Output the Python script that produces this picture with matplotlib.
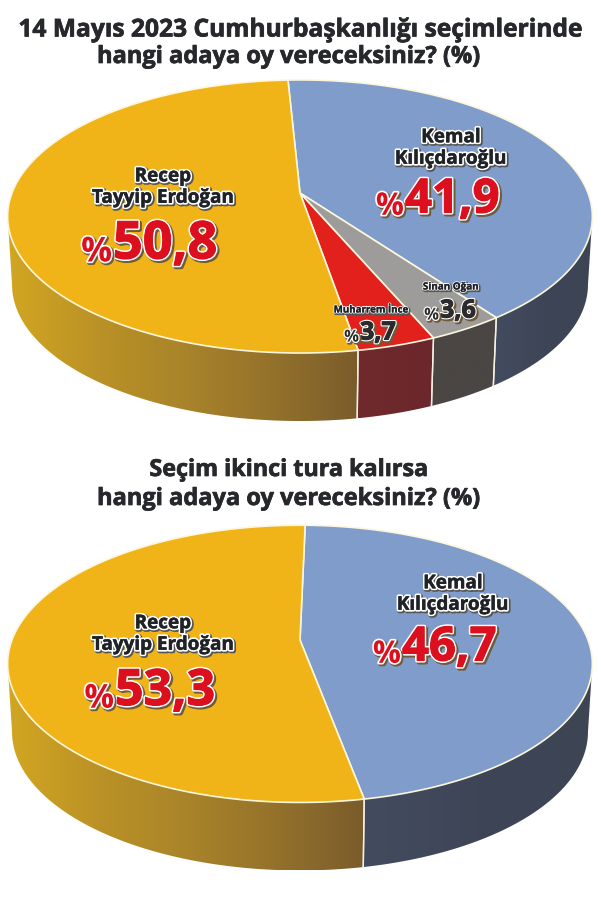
import numpy as np
import matplotlib
matplotlib.use("Agg")
import matplotlib.pyplot as plt
import matplotlib.patheffects as pe
from matplotlib.colors import LinearSegmentedColormap
from matplotlib.patches import Polygon

plt.rcParams['font.family'] = ['Open Sans', 'DejaVu Sans']

# printed numbers
first_names = ["Kemal\nKılıçdaroğlu", "Sinan Oğan", "Muharrem İnce", "Recep\nTayyip Erdoğan"]
first_labels = ["41,9", "3,6", "3,7", "50,8"]
second_names = ["Kemal\nKılıçdaroğlu", "Recep\nTayyip Erdoğan"]
second_labels = ["46,7", "53,3"]

# slice shares as actually drawn in the picture (first pie is not quite to scale with its labels)
first_shares = [40.8, 3.6, 3.7, 51.9]
second_shares = [46.7, 53.3]

face_colors = {"blue": "#7f9ccb", "grey": "#9d9c9a", "red": "#e2201c", "yellow": "#f0b418"}
wall_colors = {
    "blue": ["#434c5f", "#3e4557", "#3d4454"],
    "grey": ["#4a4644", "#4a4644"],
    "red": ["#702a2e", "#6b272c"],
    "yellow": ["#d2a622", "#bb9226", "#a9842a", "#94722b", "#7a5c2c"],
}

# view of the tilted disc, in pixels
half_w = 288.0
persp = 0.172
depth = 68.0
shrink = 0.985


def rim(theta, cx, cy, half_h, low=False):
    # theta in degrees, clockwise from the far side of the disc
    t = np.radians(theta)
    d = 1 + persp * np.cos(t)
    x = half_w * np.sin(t) / d
    y = -half_h * np.cos(t) / d
    if low:
        return cx + shrink * x, cy + y + depth
    return cx + x, cy + y


def draw_pie(ax, shares, keys, start, cx, cy, half_h):
    edges = start + np.cumsum([0] + list(shares)) * 3.6
    tangent = np.degrees(np.arccos(-persp))

    # side wall first, top face covers what is hidden
    for k, key in enumerate(keys):
        a = max(edges[k], tangent)
        b = min(edges[k + 1], 360 - tangent)
        if b <= a:
            continue
        th = np.linspace(a, b, 120)
        xt, yt = rim(th, cx, cy, half_h)
        xl, yl = rim(th[::-1], cx, cy, half_h, low=True)
        pts = np.column_stack([np.r_[xt, xl], np.r_[yt, yl]])
        poly = Polygon(pts, closed=True, fc="none", ec="none")
        ax.add_patch(poly)
        cmap = LinearSegmentedColormap.from_list(key, wall_colors[key])
        xmin, xmax = pts[:, 0].min(), pts[:, 0].max()
        ymin, ymax = pts[:, 1].min(), pts[:, 1].max()
        grad = np.linspace(0, 1, 256).reshape(1, -1)
        im = ax.imshow(grad, cmap=cmap, extent=[xmin, xmax, ymax, ymin],
                       aspect="auto", zorder=2, interpolation="bilinear")
        im.set_clip_path(poly)
        # white seams between the wall pieces
        for e in (edges[k], edges[k + 1]):
            if tangent < e < 360 - tangent:
                x0, y0 = rim(e, cx, cy, half_h)
                x1, y1 = rim(e, cx, cy, half_h, low=True)
                ax.plot([x0, x1], [y0, y1], color="#f4f1e6", lw=1.0, zorder=3)

    # top face
    for k, key in enumerate(keys):
        th = np.linspace(edges[k], edges[k + 1], 240)
        x, y = rim(th, cx, cy, half_h)
        pts = np.column_stack([np.r_[cx, x], np.r_[cy, y]])
        ax.add_patch(Polygon(pts, closed=True, fc=face_colors[key], ec="#fbf6dc",
                             lw=1.2, joinstyle="round", zorder=4))


def name_text(ax, x, y, s, size):
    w = size * 0.2
    effects = [pe.Stroke(linewidth=w + 0.8, foreground="#555555", offset=(0.8, -0.8)),
               pe.Stroke(linewidth=w, foreground="white"),
               pe.Stroke(linewidth=size * 0.025, foreground="#1f2226"),
               pe.Normal()]
    ax.text(x, y, s, ha="center", va="center", fontsize=size, fontweight="bold",
            color="#1f2226", linespacing=1.1, zorder=6, path_effects=effects)


def pct_text(ax, x, y, label, size, color):
    # % sign small, number big, both outlined and with a soft shadow
    w = 2.2 if size > 25 else 1.6
    effects = [pe.Stroke(linewidth=w + 1.2, foreground="#6f5a3a", offset=(1.2, -1.2)),
               pe.Stroke(linewidth=w + 0.8, foreground="white"),
               pe.Stroke(linewidth=0.8, foreground=color),
               pe.Normal()]
    sign_effects = [pe.Stroke(linewidth=w + 0.8, foreground="#6f5a3a", offset=(1, -1)),
                    pe.Stroke(linewidth=w + 0.2, foreground="white"),
                    pe.Normal()]
    ax.text(x, y, label, ha="left", va="center", fontsize=size, fontweight="bold",
            color=color, zorder=6, path_effects=effects)
    ax.text(x - 1, y + size * 0.2, "%", ha="right", va="center", fontsize=size * 0.66,
            fontweight="bold", color=color, zorder=6, path_effects=sign_effects)


fig = plt.figure(figsize=(6.01, 9.06), dpi=100)
ax = fig.add_axes([0, 0, 1, 1])

draw_pie(ax, first_shares, ["blue", "grey", "red", "yellow"], -2.8, 300, 193, 132.5)
draw_pie(ax, second_shares, ["blue", "yellow"], 1.2, 300, 640, 134.5)

ax.set_xlim(0, 601)
ax.set_ylim(906, 0)
ax.axis("off")

title_effects = [pe.withStroke(linewidth=0.5, foreground="#26282c")]
title_style = dict(ha="center", va="center", fontweight="bold", color="#26282c", path_effects=title_effects)
ax.text(301, 30, "14 Mayıs 2023 Cumhurbaşkanlığı seçimlerinde", fontsize=17.7, **title_style)
ax.text(289, 57, "hangi adaya oy vereceksiniz? (%)", fontsize=17.0, **title_style)
ax.text(289, 470, "Seçim ikinci tura kalırsa", fontsize=16.8, **title_style)
ax.text(289, 499, "hangi adaya oy vereceksiniz? (%)", fontsize=17.0, **title_style)

name_text(ax, 451, 148, first_names[0], 13.6)
name_text(ax, 451, 287, first_names[1], 7.1)
name_text(ax, 371, 310, first_names[2], 7.0)
name_text(ax, 163, 187, first_names[3], 13.6)
pct_text(ax, 405, 200, first_labels[0], 34, "#dc0f1f")
pct_text(ax, 440, 311, first_labels[1], 18, "#2b2b2d")
pct_text(ax, 360, 333, first_labels[2], 18, "#2b2b2d")
pct_text(ax, 113, 245, first_labels[3], 37.5, "#dc0f1f")

name_text(ax, 453, 594, second_names[0], 13.6)
name_text(ax, 163, 634, second_names[1], 13.6)
pct_text(ax, 402, 648, second_labels[0], 34, "#dc0f1f")
pct_text(ax, 115, 692, second_labels[1], 36, "#dc0f1f")

fig.savefig("out.png", dpi=100, facecolor="white")
plt.close(fig)
